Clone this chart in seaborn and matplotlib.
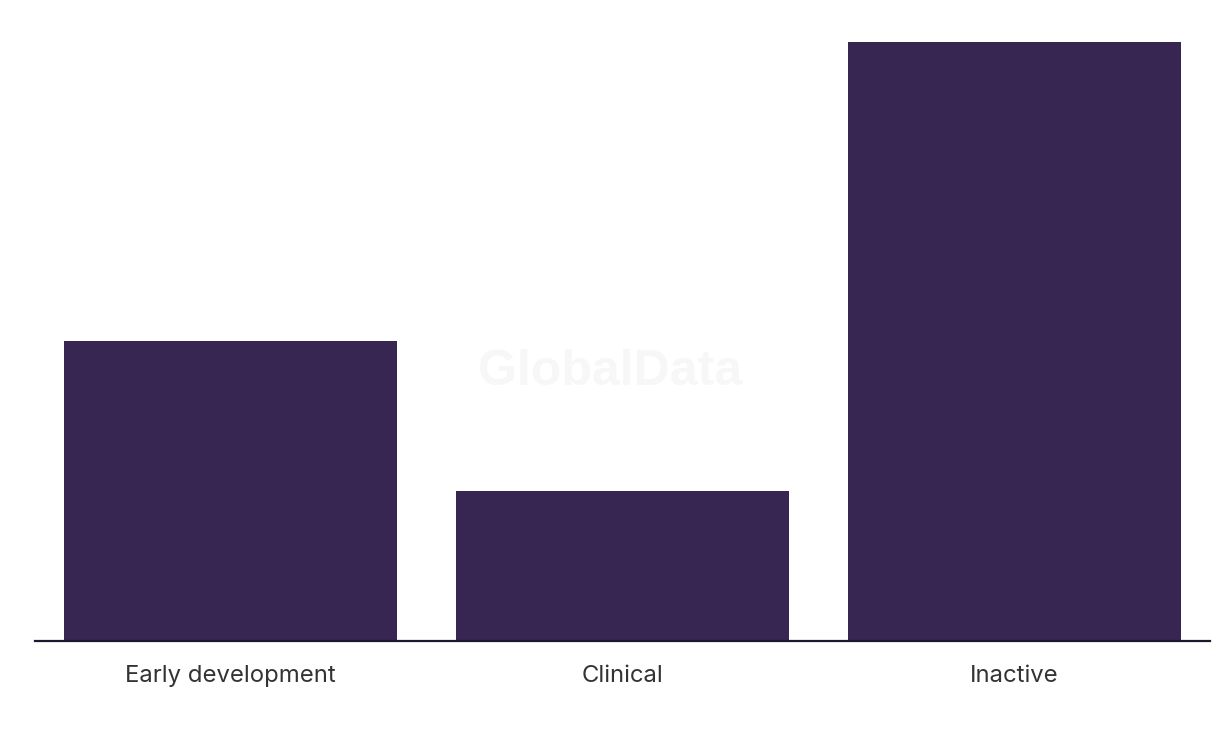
import matplotlib
matplotlib.use("Agg")
import matplotlib.pyplot as plt
import seaborn as sns
import pandas as pd

# Data
categories = ["Early development", "Clinical", "Inactive"]
counts = [2, 1, 4]

df = pd.DataFrame({"stage": categories, "count": counts})

sns.set_style("white")
plt.rcParams['font.family'] = ['Inter', 'DejaVu Sans']

fig = plt.figure(figsize=(12.2, 7.36), dpi=100)
ax = fig.add_axes([0.0287, 0.1291, 0.963, 0.8139])

sns.barplot(data=df, x="stage", y="count", color="#372552", width=0.85,
            saturation=1, linewidth=0, ax=ax)

ax.set_xlim(-0.5, 2.5)
ax.set_ylim(0, 4)
ax.set_xlabel("")
ax.set_ylabel("")
ax.set_yticks([])
ax.tick_params(axis="x", length=0, pad=17, labelsize=17.2, labelcolor="#333333")

for side in ["top", "left", "right"]:
    ax.spines[side].set_visible(False)
ax.spines["bottom"].set_color("#1a1a2e")
ax.spines["bottom"].set_linewidth(1.6)

# faint watermark
fig.text(0.5, 0.495, "GlobalData", ha="center", va="center", fontsize=36,
         fontweight="bold", color="#f7f7f7", family=["Liberation Sans"], zorder=0)

fig.savefig("out.png", dpi=100)
